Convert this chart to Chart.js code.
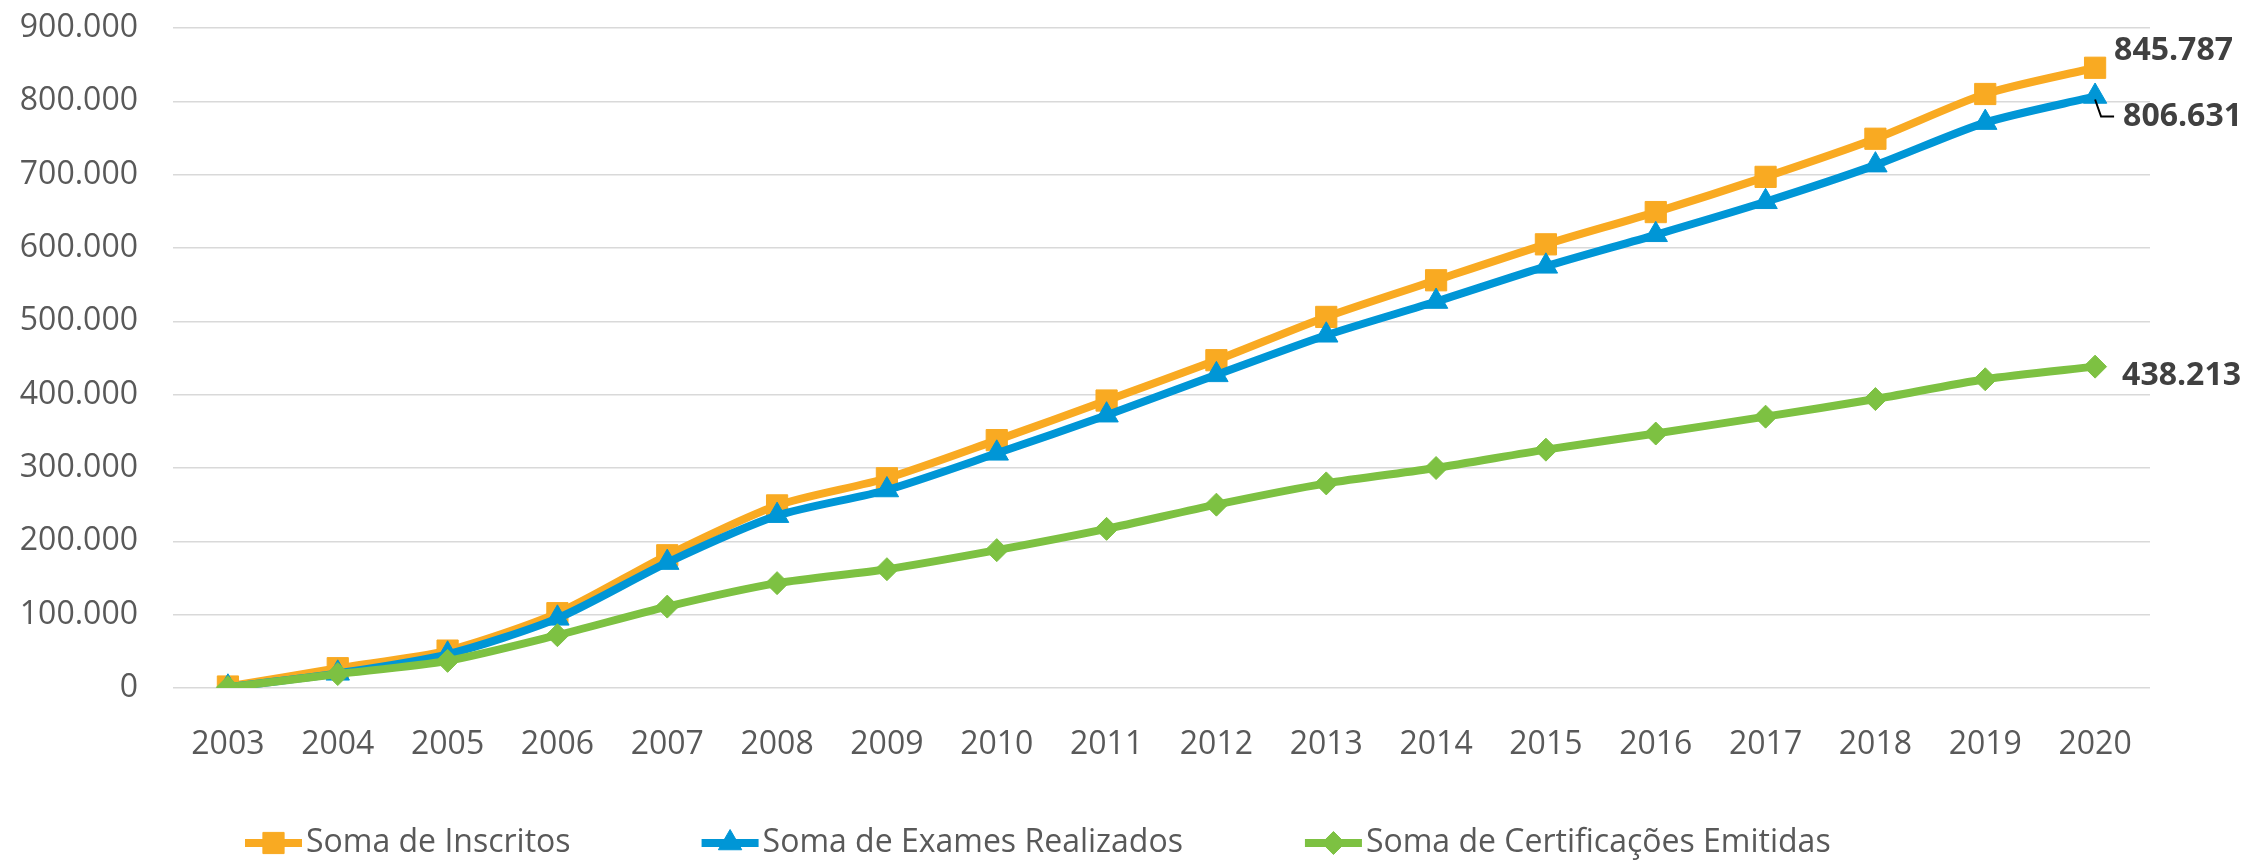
<!DOCTYPE html>
<html>
<head>
<meta charset="utf-8">
<script src="https://cdn.jsdelivr.net/npm/chart.js@4.4.1/dist/chart.umd.min.js"></script>
<style>
    html, body { margin: 0; padding: 0; background: #fff; }
</style>
</head>
<body>
<canvas id="grafico" width="2247" height="861"></canvas>
<script>
const anos = ['2003', '2004', '2005', '2006', '2007', '2008', '2009', '2010', '2011',
    '2012', '2013', '2014', '2015', '2016', '2017', '2018', '2019', '2020'];
const inscritos = [2000, 27000, 51000, 102000, 181000, 249000, 286000, 338000, 392000,
    447000, 506000, 556000, 605000, 649000, 697000, 749000, 810000, 845787];
const exames = [1000, 20000, 46000, 95000, 171000, 235000, 270000, 320000, 372000,
    427000, 481000, 527000, 575000, 618000, 663000, 713000, 771000, 806631];
const certificacoes = [1000, 19000, 37000, 72000, 111000, 143000, 162000, 188000, 217000,
    250000, 279000, 300000, 325000, 347000, 370000, 394000, 421000, 438213];
const nomes = ['Soma de Inscritos', 'Soma de Exames Realizados', 'Soma de Certificações Emitidas'];
const yMax = 900000;
const yPasso = 100000;

const FONTE = '"Open Sans", "Noto Sans", sans-serif';
const CINZA = '#595959';

function fmt(v) {
    return String(Math.round(v)).replace(/\B(?=(\d{3})+(?!\d))/g, '.');
}

// legenda desenhada à mão (linha + marcador, estilo Excel)
const legenda = {
    id: 'legenda',
    afterDraw(chart) {
        const ctx = chart.ctx;
        const y = 843;
        const gaps = [131, 122];
        let x = 245;
        ctx.save();
        ctx.font = '32px ' + FONTE;
        ctx.textBaseline = 'middle';
        ctx.textAlign = 'left';
        chart.data.datasets.forEach((ds, i) => {
            ctx.strokeStyle = ds.borderColor;
            ctx.lineWidth = 8;
            ctx.beginPath();
            ctx.moveTo(x, y);
            ctx.lineTo(x + 57, y);
            ctx.stroke();
            ctx.fillStyle = ds.pointBackgroundColor;
            ctx.strokeStyle = ds.pointBorderColor;
            ctx.lineWidth = 1;
            Chart.helpers.drawPoint(ctx, {
                pointStyle: ds.pointStyle, radius: ds.pointRadius, borderWidth: 1, rotation: 0
            }, x + 28.5, y);
            ctx.fillStyle = CINZA;
            ctx.fillText(ds.label, x + 61, y);
            x += 61 + ctx.measureText(ds.label).width + (gaps[i] || 0);
        });
        ctx.restore();
    }
};

// rótulos do último ponto
const rotulos = {
    id: 'rotulos',
    afterDatasetsDraw(chart, args, opts) {
        const ctx = chart.ctx;
        ctx.save();
        ctx.font = '700 32px ' + FONTE;
        ctx.textBaseline = 'middle';
        ctx.textAlign = 'left';
        chart.data.datasets.forEach((ds, i) => {
            const meta = chart.getDatasetMeta(i);
            const last = ds.data.length - 1;
            const pt = meta.data[last];
            const off = opts.offsets[i];
            if (off.leader) {
                ctx.strokeStyle = '#000';
                ctx.lineWidth = 2;
                ctx.beginPath();
                ctx.moveTo(pt.x, pt.y + 3);
                ctx.lineTo(pt.x + 6, pt.y + off.dy);
                ctx.lineTo(pt.x + off.dx - 9, pt.y + off.dy);
                ctx.stroke();
            }
            ctx.fillStyle = '#404040';
            ctx.fillText(fmt(ds.data[last]), pt.x + off.dx, pt.y + off.dy);
        });
        ctx.restore();
    }
};

function serie(label, data, cor, estilo, raio, ordem) {
    return {
        label: label,
        data: data,
        borderColor: cor,
        backgroundColor: cor,
        pointBackgroundColor: cor,
        pointBorderColor: cor,
        pointBorderWidth: 1,
        pointStyle: estilo,
        pointRadius: raio,
        pointHoverRadius: raio,
        borderWidth: 8,
        tension: 0.25,
        order: ordem,
        fill: false
    };
}

new Chart(document.getElementById('grafico').getContext('2d'), {
    type: 'line',
    data: {
        labels: anos,
        datasets: [
            serie(nomes[0], inscritos, '#F9AA22', 'rect', 15, 3),
            serie(nomes[1], exames, '#0096D6', 'triangle', 13.5, 2),
            serie(nomes[2], certificacoes, '#7DC142', 'rectRot', 11.5, 1)
        ]
    },
    options: {
        responsive: false,
        animation: false,
        layout: { padding: { left: 0, right: 97, top: 28, bottom: 0 } },
        plugins: {
            legend: { display: false },
            tooltip: { enabled: false },
            rotulos: {
                offsets: [
                    { dx: 19, dy: -17 },
                    { dx: 28, dy: 20, leader: true },
                    { dx: 27, dy: 9 }
                ]
            }
        },
        scales: {
            x: {
                offset: true,
                grid: { display: false },
                border: { display: false },
                ticks: { color: CINZA, font: { family: FONTE, size: 32 }, padding: 30, maxRotation: 0 },
                afterFit: s => { s.height = 173; }
            },
            y: {
                min: 0,
                max: yMax,
                // marcas invisíveis só para afastar os rótulos da grade
                grid: { color: '#D9D9D9', lineWidth: 1.5, drawTicks: true, tickLength: 35, tickColor: 'rgba(0,0,0,0)' },
                border: { display: false },
                ticks: {
                    stepSize: yPasso,
                    color: CINZA,
                    font: { family: FONTE, size: 32 },
                    padding: 0,
                    callback: v => fmt(v)
                },
                afterFit: s => { s.width = 173; }
            }
        }
    },
    plugins: [legenda, rotulos]
});
</script>
</body>
</html>
